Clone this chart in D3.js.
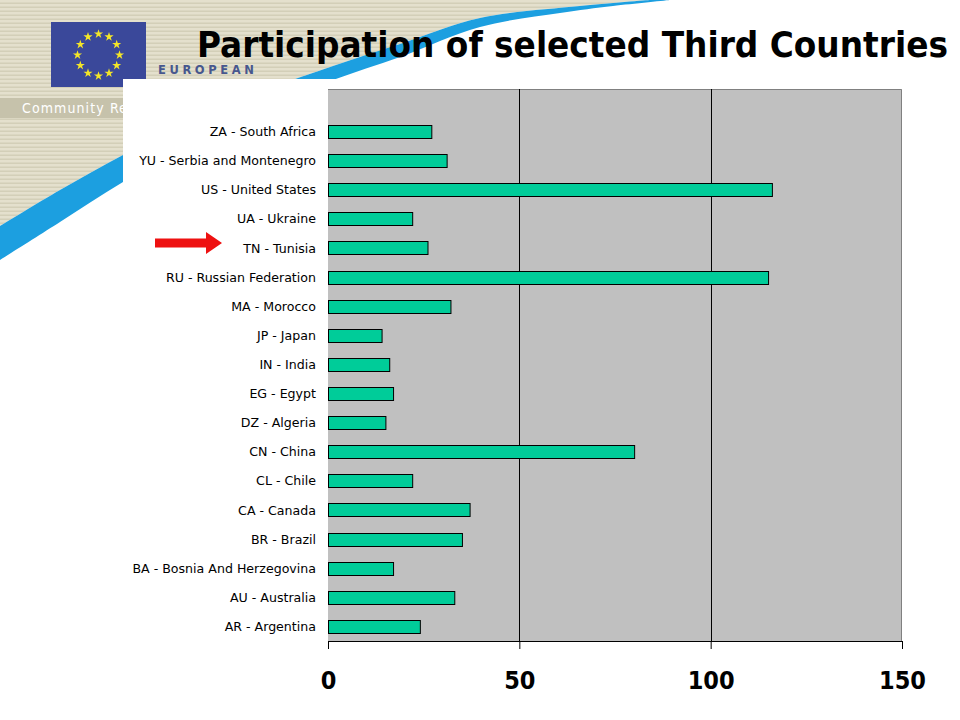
<!DOCTYPE html>
<html>
<head>
<meta charset="utf-8">
<script src="https://cdn.jsdelivr.net/npm/d3@7"></script>
<style>
  html, body { margin: 0; padding: 0; background: #ffffff; }
  svg { display: block; }
</style>
</head>
<body>
<svg id="chart" width="960" height="720"></svg>
<script>
// ---- data ----
const categories = [
  "ZA - South Africa",
  "YU - Serbia and Montenegro",
  "US - United States",
  "UA - Ukraine",
  "TN - Tunisia",
  "RU - Russian Federation",
  "MA - Morocco",
  "JP - Japan",
  "IN - India",
  "EG - Egypt",
  "DZ - Algeria",
  "CN - China",
  "CL - Chile",
  "CA - Canada",
  "BR - Brazil",
  "BA - Bosnia And Herzegovina",
  "AU - Australia",
  "AR - Argentina"
];
const participations = [27, 31, 116, 22, 26, 115, 32, 14, 16, 17, 15, 80, 22, 37, 35, 17, 33, 24];
const xTicks = [0, 50, 100, 150];
const highlighted = "TN - Tunisia";
const titleText = "Participation of selected Third Countries";

// ---- layout ----
const svg = d3.select("#chart");
const W = 960, H = 720;
const plot = { left: 328, right: 902, top: 89, bottom: 641 };
const bandTop = 117;

const defs = svg.append("defs");
const pat = defs.append("pattern").attr("id", "stripes")
  .attr("patternUnits", "userSpaceOnUse").attr("width", 8).attr("height", 4);
pat.append("rect").attr("width", 8).attr("height", 4).attr("fill", "#e4e0cd");
pat.append("rect").attr("y", 2.5).attr("width", 8).attr("height", 1.5).attr("fill", "#d3cfb8");

defs.append("clipPath").attr("id", "leftClip")
  .append("rect").attr("x", 0).attr("y", 0).attr("width", 123).attr("height", 720);
defs.append("clipPath").attr("id", "topClip")
  .append("rect").attr("x", 0).attr("y", 0).attr("width", 960).attr("height", 79);

// ---- slide background ----
svg.append("rect").attr("width", W).attr("height", H).attr("fill", "#ffffff");

const upper = [[0,226],[60,190],[123,155],[200,115],[270,88],[333,66],[400,44],[480,18],[580,6],[650,0]];
const lower = [[0,260],[60,222],[123,182],[200,138],[270,105],[333,80],[400,57],[480,27],[560,13],[613,6],[670,0]];
const curve = d3.line().curve(d3.curveCatmullRom);

// beige striped region
const upperRev = upper.slice().reverse();
svg.append("path")
  .attr("d", "M0,0L650,0" + curve(upperRev).replace(/^M/, "L") + "Z")
  .attr("fill", "url(#stripes)");

// blue swoosh
svg.append("path")
  .attr("d", curve(upper) + curve(lower.slice().reverse()).replace(/^M/, "L") + "Z")
  .attr("fill", "#1c9fe0");

// Community band
svg.append("rect").attr("x", 0).attr("y", 98).attr("width", 123).attr("height", 20)
  .attr("fill", "#c6c2ab").attr("clip-path", "url(#leftClip)");
svg.append("text").attr("x", 22).attr("y", 113)
  .attr("clip-path", "url(#leftClip)")
  .attr("font-family", "DejaVu Sans Condensed, DejaVu Sans, sans-serif")
  .attr("font-size", 14).attr("letter-spacing", 1.1).attr("fill", "#ffffff")
  .text("Community Research");

// EU flag
svg.append("rect").attr("x", 51).attr("y", 22).attr("width", 95).attr("height", 65).attr("fill", "#3a489a");
const starG = svg.append("g");
d3.range(12).forEach(i => {
  const a = i * Math.PI / 6;
  starG.append("path")
    .attr("d", d3.symbol(d3.symbolStar, 26)())
    .attr("transform", `translate(${98.5 + 21 * Math.sin(a)},${55 - 21 * Math.cos(a)})`)
    .attr("fill", "#f4e628");
});

// EUROPEAN COMMISSION
svg.append("text").attr("x", 158).attr("y", 74)
  .attr("font-family", "DejaVu Sans, sans-serif").attr("font-weight", "bold")
  .attr("font-size", 11.5).attr("letter-spacing", 3.6).attr("fill", "#47578e")
  .text("EUROPEAN");
svg.append("text").attr("x", 158).attr("y", 88)
  .attr("clip-path", "url(#topClip)")
  .attr("font-family", "DejaVu Sans, sans-serif").attr("font-weight", "bold")
  .attr("font-size", 11.5).attr("letter-spacing", 1.2).attr("fill", "#47578e")
  .text("COMMISSION");

// title
svg.append("text").attr("x", 197).attr("y", 57)
  .attr("font-family", "DejaVu Sans Condensed, DejaVu Sans, sans-serif")
  .attr("font-weight", "bold").attr("font-size", 36).attr("fill", "#000000")
  .attr("textLength", 751).attr("lengthAdjust", "spacingAndGlyphs")
  .text(titleText);

// white chart panel
svg.append("rect").attr("x", 123).attr("y", 79).attr("width", W - 123).attr("height", H - 79)
  .attr("fill", "#ffffff");

// ---- scales ----
const x = d3.scaleLinear().domain([0, 150]).range([plot.left, plot.right]);
const y = d3.scaleBand().domain(categories).range([bandTop, plot.bottom]).paddingInner(0.55).paddingOuter(0.275);

// plot background
svg.append("rect").attr("x", plot.left).attr("y", plot.top)
  .attr("width", plot.right - plot.left).attr("height", plot.bottom - plot.top)
  .attr("fill", "#c0c0c0");
// border top/right
svg.append("path")
  .attr("d", `M${plot.left},${plot.top + 0.5}H${plot.right - 0.5}V${plot.bottom}`)
  .attr("fill", "none").attr("stroke", "#808080").attr("stroke-width", 1);

// gridlines
svg.append("g").selectAll("line").data(xTicks.filter(t => t > 0 && t < 150)).join("line")
  .attr("x1", d => Math.round(x(d)) + 0.5).attr("x2", d => Math.round(x(d)) + 0.5)
  .attr("y1", plot.top).attr("y2", plot.bottom)
  .attr("stroke", "#000000").attr("stroke-width", 1);

// bars
svg.append("g").selectAll("rect").data(categories).join("rect")
  .attr("x", x(0) + 0.5)
  .attr("y", d => Math.round(y(d)) + 0.5)
  .attr("width", (d, i) => x(participations[i]) - x(0))
  .attr("height", Math.round(y.bandwidth()))
  .attr("fill", "#00cc99").attr("stroke", "#000000").attr("stroke-width", 1);

// category labels
svg.append("g").selectAll("text").data(categories).join("text")
  .attr("x", 316)
  .attr("y", d => y(d) + y.bandwidth() / 2)
  .attr("dy", "0.36em")
  .attr("text-anchor", "end")
  .attr("font-family", "DejaVu Sans, sans-serif")
  .attr("font-size", 12.6).attr("fill", "#000000")
  .text(d => d);

// x axis
const xAxis = d3.axisBottom(x).tickValues(xTicks).tickSize(8).tickPadding(22).tickFormat(d3.format("d"));
const axG = svg.append("g").attr("transform", `translate(0,${plot.bottom})`).call(xAxis);
axG.select(".domain").attr("d", `M${plot.left},0.5H${plot.right}`).attr("stroke", "#000");
axG.selectAll(".tick line").attr("stroke", "#000");
axG.selectAll(".tick text")
  .attr("font-family", "DejaVu Sans Condensed, DejaVu Sans, sans-serif")
  .attr("font-weight", "bold").attr("font-size", 25).attr("fill", "#000");

// red arrow pointing at highlighted country
const ay = y(highlighted) + y.bandwidth() / 2 - 5;
svg.append("path")
  .attr("d", `M155,${ay - 4.5}H206V${ay - 11}L222,${ay}L206,${ay + 11}V${ay + 4.5}H155Z`)
  .attr("fill", "#ee1111");
</script>
</body>
</html>
